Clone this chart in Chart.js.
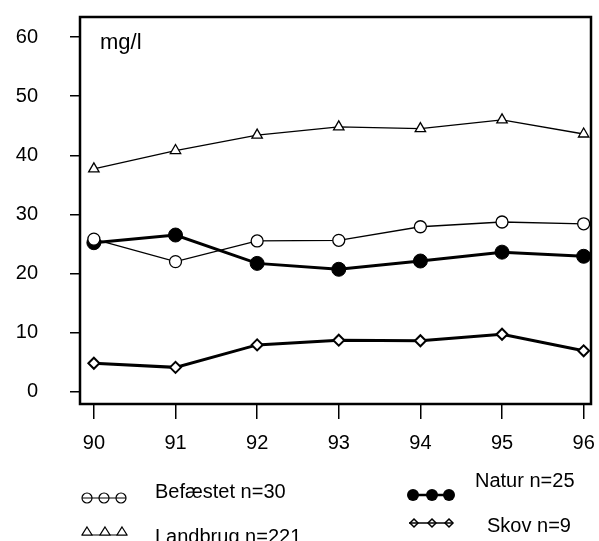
<!DOCTYPE html>
<html>
<head>
<meta charset="utf-8">
<script src="https://cdn.jsdelivr.net/npm/chart.js@4"></script>
<style>
  html, body { margin: 0; padding: 0; background: #fff; }
  #wrap { position: relative; width: 599px; height: 541px; overflow: hidden; font-family: "Liberation Sans", Arial, sans-serif; color: #000; }
  #chart { position: absolute; left: 0; top: 0; }
  .txt { position: absolute; white-space: nowrap; font-size: 20px; line-height: 20px; }
  .unit { position: absolute; left: 100px; top: 31px; font-size: 22px; line-height: 22px; }
  .sym { position: absolute; }
</style>
</head>
<body>
<div id="wrap">
  <canvas id="chart" width="599" height="541"></canvas>
  <div class="unit">mg/l</div>

  <svg class="sym" style="left:78px;top:488px" width="54" height="20">
    <line x1="4" y1="10" x2="48" y2="10" stroke="#000" stroke-width="1.2"/>
    <circle cx="9" cy="10" r="5" fill="none" stroke="#000" stroke-width="1.2"/>
    <circle cx="26" cy="10" r="5" fill="none" stroke="#000" stroke-width="1.2"/>
    <circle cx="43" cy="10" r="5" fill="none" stroke="#000" stroke-width="1.2"/>
  </svg>
  <div class="txt" style="left:155px;top:481px">Befæstet n=30</div>

  <svg class="sym" style="left:78px;top:522px" width="54" height="20">
    <line x1="4" y1="13" x2="49" y2="13" stroke="#000" stroke-width="1.2"/>
    <polygon points="9,5 14,13 4,13" fill="#fff" stroke="#000" stroke-width="1.2"/>
    <polygon points="27,5 32,13 22,13" fill="#fff" stroke="#000" stroke-width="1.2"/>
    <polygon points="44,5 49,13 39,13" fill="#fff" stroke="#000" stroke-width="1.2"/>
  </svg>
  <div class="txt" style="left:155px;top:526px">Landbrug n=221</div>

  <svg class="sym" style="left:403px;top:485px" width="60" height="20">
    <line x1="10" y1="10" x2="46" y2="10" stroke="#000" stroke-width="2.5"/>
    <circle cx="10" cy="10" r="6" fill="#000"/>
    <circle cx="29" cy="10" r="6" fill="#000"/>
    <circle cx="46" cy="10" r="6" fill="#000"/>
  </svg>
  <div class="txt" style="left:475px;top:470px">Natur n=25</div>

  <svg class="sym" style="left:403px;top:513px" width="60" height="20">
    <line x1="6" y1="10" x2="50" y2="10" stroke="#000" stroke-width="1.5"/>
    <polygon points="11,6 15,10 11,14 7,10" fill="none" stroke="#000" stroke-width="1.5"/>
    <polygon points="29,6 33,10 29,14 25,10" fill="none" stroke="#000" stroke-width="1.5"/>
    <polygon points="46,6 50,10 46,14 42,10" fill="none" stroke="#000" stroke-width="1.5"/>
  </svg>
  <div class="txt" style="left:487px;top:515px">Skov n=9</div>
</div>

<script>
const years = [90, 91, 92, 93, 94, 95, 96];
const yTicks = [0, 10, 20, 30, 40, 50, 60];

const befaestet = [25.8, 22.0, 25.5, 25.6, 27.9, 28.7, 28.4];
const landbrug = [37.7, 40.8, 43.4, 44.8, 44.5, 46.0, 43.6];
const natur = [25.2, 26.5, 21.7, 20.7, 22.1, 23.6, 22.9];
const skov = [4.8, 4.1, 7.9, 8.7, 8.6, 9.7, 6.9];

function points(values) {
  return values.map((v, i) => ({ x: years[i], y: v }));
}

// frame around the plot area
const boxPlugin = {
  id: "box",
  afterDraw(chart) {
    const { ctx, chartArea: a } = chart;
    ctx.save();
    ctx.strokeStyle = "#000";
    ctx.lineWidth = 2.5;
    ctx.strokeRect(a.left, a.top, a.right - a.left, a.bottom - a.top);
    ctx.restore();
  },
};

// no extra room for half labels at the axis ends
function noPad(s) {
  s.paddingTop = 0;
  s.paddingBottom = 0;
  s.paddingLeft = 0;
  s.paddingRight = 0;
}

const tickFont = { family: "'Liberation Sans', Arial, sans-serif", size: 20 };

new Chart(document.getElementById("chart"), {
  type: "line",
  data: {
    datasets: [
      {
        label: "Landbrug n=221",
        data: points(landbrug),
        borderColor: "#000",
        borderWidth: 1.3,
        pointStyle: "triangle",
        pointRadius: 6,
        pointBackgroundColor: "#fff",
        pointBorderColor: "#000",
        pointBorderWidth: 1.3,
      },
      {
        label: "Befæstet n=30",
        data: points(befaestet),
        borderColor: "#000",
        borderWidth: 1.3,
        pointStyle: "circle",
        pointRadius: 6,
        pointBackgroundColor: "#fff",
        pointBorderColor: "#000",
        pointBorderWidth: 1.3,
      },
      {
        label: "Natur n=25",
        data: points(natur),
        borderColor: "#000",
        borderWidth: 3,
        pointStyle: "circle",
        pointRadius: 7,
        pointBackgroundColor: "#000",
        pointBorderColor: "#000",
        pointBorderWidth: 1,
      },
      {
        label: "Skov n=9",
        data: points(skov),
        borderColor: "#000",
        borderWidth: 3,
        pointStyle: "rectRot",
        pointRadius: 5.5,
        pointBackgroundColor: "#fff",
        pointBorderColor: "#000",
        pointBorderWidth: 2,
      },
    ],
  },
  options: {
    responsive: false,
    animation: false,
    layout: { padding: { left: 0, right: 8, top: 17, bottom: 87 } },
    plugins: {
      legend: { display: false },
      tooltip: { enabled: false },
    },
    scales: {
      x: {
        type: "linear",
        min: 89.83,
        max: 96.09,
        afterBuildTicks: (s) => { s.ticks = years.map((v) => ({ value: v })); },
        afterFit: (s) => { s.height = 50; noPad(s); },
        border: { display: false },
        grid: { drawOnChartArea: false, drawTicks: true, tickLength: 15, color: "#000", lineWidth: 1.5 },
        ticks: { color: "#000", font: tickFont, padding: 12, maxRotation: 0, autoSkip: false, callback: (v) => String(v) },
      },
      y: {
        min: -2.1,
        max: 63.4,
        afterBuildTicks: (s) => { s.ticks = yTicks.map((v) => ({ value: v })); },
        afterFit: (s) => { s.width = 80; noPad(s); },
        border: { display: false },
        grid: { drawOnChartArea: false, drawTicks: true, tickLength: 10, color: "#000", lineWidth: 1.5 },
        ticks: { color: "#000", font: tickFont, padding: 32, callback: (v) => String(v) },
      },
    },
  },
  plugins: [boxPlugin],
});
</script>
</body>
</html>
